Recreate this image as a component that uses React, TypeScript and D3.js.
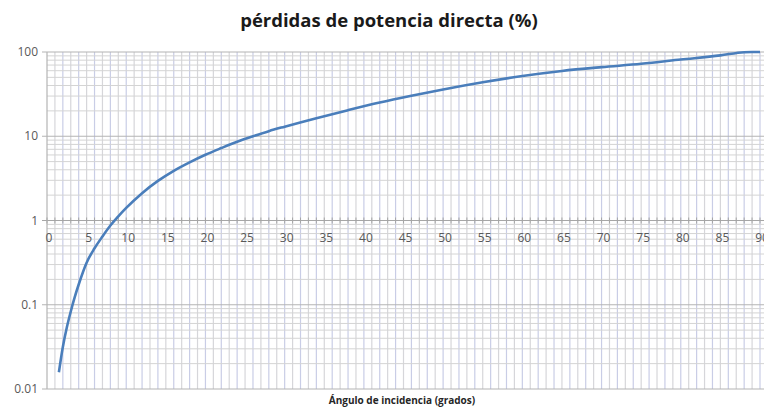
import React, { useEffect, useRef } from "react";
import * as d3 from "d3";

// angle of incidence (degrees) and direct power loss (%)
const angles = [1.5, 2, 2.5, 3, 3.5, 4, 5, 6, 7, 8, 9, 10, 12, 14, 16, 18, 20, 22, 24, 26, 28, 30, 34, 38, 42, 46, 50, 55, 60, 65, 70, 75, 80, 85, 88, 89, 90];
const losses = [0.0158, 0.0316, 0.0537, 0.0832, 0.123, 0.174, 0.316, 0.468, 0.646, 0.871, 1.12, 1.41, 2.11, 2.95, 3.89, 4.9, 6.03, 7.24, 8.61, 10, 11.5, 13.0, 16.4, 20.4, 25.1, 30.2, 35.9, 43.7, 51.9, 59.6, 66.1, 72.4, 81.3, 91.2, 99.5, 100, 100];
const xTickLabels = d3.range(0, 91, 5);
const yTickLabels = [100, 10, 1, 0.1, 0.01];

const W = 764;
const H = 410;

const App: React.FC = () => {
  const svgRef = useRef<SVGSVGElement | null>(null);

  useEffect(() => {
    if (!svgRef.current) return;
    const svg = d3.select(svgRef.current);
    svg.selectAll("*").remove();

    const left = 47;
    const right = 760;
    const top = 52;
    const bottom = 389;

    const x = d3.scaleLinear().domain([0, 90]).range([left, right]);
    const y = d3.scaleLog().domain([0.01, 100]).range([bottom, top]);

    // vertical grid, one per degree
    const vg = svg.append("g");
    d3.range(1, 91).forEach((d) => {
      vg.append("line")
        .attr("x1", x(d))
        .attr("x2", x(d))
        .attr("y1", top)
        .attr("y2", bottom)
        .attr("stroke", d % 2 === 0 ? "#c9cde6" : "#d6d6da")
        .attr("stroke-width", 1.2);
    });

    // horizontal minor grid
    const hg = svg.append("g");
    [0.01, 0.1, 1, 10].forEach((dec) => {
      d3.range(2, 10).forEach((m) => {
        hg.append("line")
          .attr("x1", left)
          .attr("x2", W)
          .attr("y1", y(dec * m))
          .attr("y2", y(dec * m))
          .attr("stroke", "#d4d4d4")
          .attr("stroke-width", 1);
      });
    });
    // major (decades)
    yTickLabels.forEach((d) => {
      hg.append("line")
        .attr("x1", left - 5)
        .attr("x2", W)
        .attr("y1", y(d))
        .attr("y2", y(d))
        .attr("stroke", d === 1 ? "#a6a6a6" : "#b4b4b4")
        .attr("stroke-width", 1.2);
    });

    // y axis line
    svg.append("line")
      .attr("x1", left)
      .attr("x2", left)
      .attr("y1", top)
      .attr("y2", bottom)
      .attr("stroke", "#b4b4b4")
      .attr("stroke-width", 1.2);

    // x axis crosses at 1: small ticks
    d3.range(0, 91).forEach((d) => {
      svg.append("line")
        .attr("x1", x(d))
        .attr("x2", x(d))
        .attr("y1", y(1) - 3)
        .attr("y2", y(1) + 3)
        .attr("stroke", "#a6a6a6");
    });

    // y labels
    svg.append("g")
      .selectAll("text")
      .data(yTickLabels)
      .join("text")
      .attr("x", left - 9)
      .attr("y", (d) => y(d) + 4)
      .attr("text-anchor", "end")
      .attr("font-family", "Open Sans, sans-serif")
      .attr("font-size", 12)
      .attr("fill", "#595959")
      .text((d) => String(d));

    // x labels
    svg.append("g")
      .selectAll("text")
      .data(xTickLabels)
      .join("text")
      .attr("x", (d) => x(d) + 2)
      .attr("y", y(1) + 21)
      .attr("text-anchor", "middle")
      .attr("font-family", "Open Sans, sans-serif")
      .attr("font-size", 12)
      .attr("fill", "#595959")
      .text((d) => String(d));

    // curve
    const pts: [number, number][] = angles.map((a, i) => [a, losses[i]]);
    const line = d3
      .line<[number, number]>()
      .x((d) => x(d[0]))
      .y((d) => y(d[1]))
      .curve(d3.curveMonotoneX);
    svg.append("path")
      .attr("d", line(pts))
      .attr("fill", "none")
      .attr("stroke", "#4a7ebb")
      .attr("stroke-width", 2.6);

    // title
    svg.append("text")
      .attr("x", 389)
      .attr("y", 27)
      .attr("text-anchor", "middle")
      .attr("font-family", "Open Sans, sans-serif")
      .attr("font-weight", "bold")
      .attr("font-size", 18.5)
      .attr("fill", "#1a1a1a")
      .text("pérdidas de potencia directa (%)");

    // axis title
    svg.append("text")
      .attr("x", 402)
      .attr("y", 404)
      .attr("text-anchor", "middle")
      .attr("font-family", "Open Sans, sans-serif")
      .attr("font-weight", "bold")
      .attr("font-size", 10)
      .attr("fill", "#262626")
      .text("Ángulo de incidencia (grados)");
  }, []);

  return (
    <div style={{ position: "absolute", left: 0, top: 0 }}>
      <svg ref={svgRef} width={W} height={H} style={{ display: "block", background: "#fff" }}></svg>
    </div>
  );
};

export default App;
